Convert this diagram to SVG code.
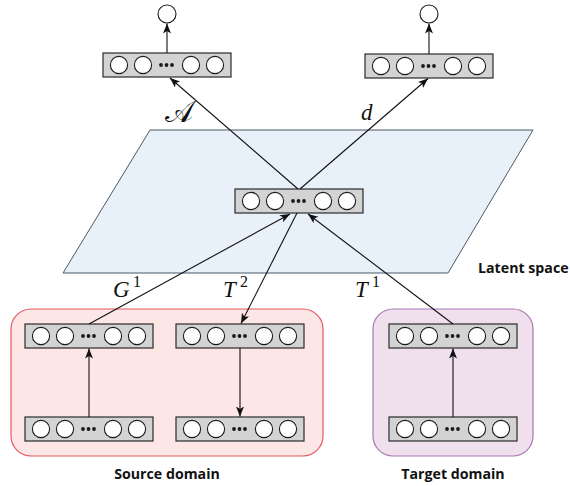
<svg xmlns="http://www.w3.org/2000/svg" xmlns:xlink="http://www.w3.org/1999/xlink" width="570" height="486" viewBox="0 0 570 486">
  <style>
    .layer-bg { fill: #d3d3d3; stroke: #2a2a2a; stroke-width: 1.2; }
    .unit { fill: #ffffff; stroke: #1a1a1a; stroke-width: 1.1; }
    .dot { fill: #1a1a1a; }
    .edge { fill: none; stroke: #111111; stroke-width: 1.1; marker-end: url(#arrow); }
    .math { font-family: "Liberation Serif", "DejaVu Serif", serif; font-style: italic; font-size: 23px; fill: #111; }
    .script { font-family: "DejaVu Sans", "Noto Sans", serif; font-size: 30px; fill: #111; }
    .sup { font-family: "Liberation Serif", "DejaVu Serif", serif; font-size: 16px; fill: #111; }
    .caption { font-family: "Open Sans", "Liberation Sans", sans-serif; font-weight: 700; font-size: 14.2px; fill: #111; }
  </style>
  <defs>
    <marker id="arrow" markerUnits="userSpaceOnUse" markerWidth="11" markerHeight="9" refX="10" refY="4" orient="auto">
      <path d="M0,0 L10,4 L0,8 L2.5,4 Z" fill="#111"/>
    </marker>
    <!-- a layer of five units with an ellipsis -->
    <g id="layer">
      <rect class="layer-bg" x="0" y="0" width="128" height="24"/>
      <circle class="unit" cx="16" cy="12" r="8.6"/>
      <circle class="unit" cx="40" cy="12" r="8.6"/>
      <circle class="dot" cx="58" cy="12" r="1.9"/>
      <circle class="dot" cx="63.5" cy="12" r="1.9"/>
      <circle class="dot" cx="69" cy="12" r="1.9"/>
      <circle class="unit" cx="88" cy="12" r="8.6"/>
      <circle class="unit" cx="112" cy="12" r="8.6"/>
    </g>
  </defs>

  <!-- background regions -->
  <g id="latent-space">
    <polygon points="150,130 533,130 448,273 63,273" fill="#e8f0f9" stroke="#4d5866" stroke-width="1"/>
    <text class="caption" x="478" y="273">Latent space</text>
  </g>
  <g id="source-domain">
    <rect x="11" y="309" width="312" height="147" rx="20" ry="20" fill="#fde6e6" stroke="#e2585e" stroke-width="1.2"/>
    <text class="caption" x="167" y="479" text-anchor="middle">Source domain</text>
  </g>
  <g id="target-domain">
    <rect x="373" y="309" width="160" height="147" rx="20" ry="20" fill="#f0dfec" stroke="#a878b4" stroke-width="1.2"/>
    <text class="caption" x="453" y="479" text-anchor="middle">Target domain</text>
  </g>

  <!-- layers -->
  <g id="latent"><use xlink:href="#layer" x="235" y="189"/></g>
  <g id="head-A"><use xlink:href="#layer" x="103" y="53"/></g>
  <g id="head-d"><use xlink:href="#layer" x="365" y="54"/></g>
  <g id="out-A"><circle class="unit" cx="167" cy="14" r="9"/></g>
  <g id="out-d"><circle class="unit" cx="429" cy="14" r="9"/></g>
  <g id="src-enc-top"><use xlink:href="#layer" x="25" y="324"/></g>
  <g id="src-enc-bottom"><use xlink:href="#layer" x="25" y="417"/></g>
  <g id="src-dec-top"><use xlink:href="#layer" x="176" y="324"/></g>
  <g id="src-dec-bottom"><use xlink:href="#layer" x="176" y="417"/></g>
  <g id="tgt-enc-top"><use xlink:href="#layer" x="389" y="324"/></g>
  <g id="tgt-enc-bottom"><use xlink:href="#layer" x="389" y="417"/></g>

  <!-- connectors -->
  <g id="connectors">
    <line class="edge" x1="167" y1="53" x2="167" y2="23.5"/>
    <line class="edge" x1="429" y1="54" x2="429" y2="23.5"/>
    <line class="edge" x1="298" y1="189" x2="170" y2="78"/>
    <line class="edge" x1="300" y1="189" x2="428" y2="78.5"/>
    <line class="edge" x1="89" y1="324" x2="290" y2="214"/>
    <line class="edge" x1="297" y1="213" x2="241" y2="323.5"/>
    <line class="edge" x1="453" y1="324" x2="308" y2="214"/>
    <line class="edge" x1="89" y1="417" x2="89" y2="348.5"/>
    <line class="edge" x1="240" y1="348" x2="240" y2="416.5"/>
    <line class="edge" x1="453" y1="417" x2="453" y2="348.5"/>
  </g>

  <!-- connector labels -->
  <g id="labels">
    <text class="script" x="165" y="122">𝒜</text>
    <text class="math" x="361" y="120">d</text>
    <text class="math" x="113" y="297">G</text><text class="sup" x="133" y="287">1</text>
    <text class="math" x="223" y="297">T</text><text class="sup" x="240" y="287">2</text>
    <text class="math" x="355" y="297">T</text><text class="sup" x="372" y="287">1</text>
  </g>
</svg>
